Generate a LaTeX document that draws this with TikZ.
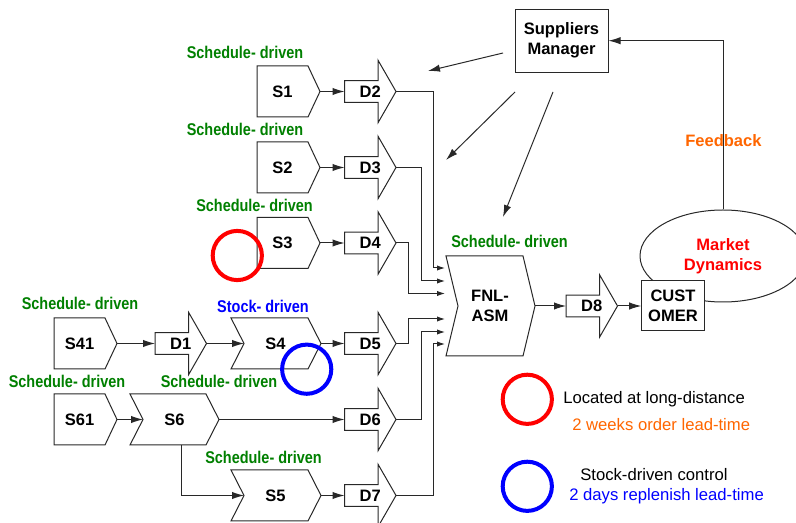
\documentclass[tikz,border=0pt]{standalone}
\usepackage{fontspec}
\setmainfont{Liberation Sans}
\newfontfamily\condfont{Liberation Sans}[FakeStretch=0.85]
\usetikzlibrary{arrows.meta,shapes.geometric}
\definecolor{sgreen}{RGB}{0,128,0}
\definecolor{sorange}{RGB}{255,102,0}
\definecolor{sblue}{RGB}{0,0,255}
\definecolor{sred}{RGB}{255,0,0}
\definecolor{lin}{RGB}{40,40,40}
% pentagon box: name, left x, top y
\newcommand\pentbox[3]{%
  \draw[shp] (#2,#3) -- ++(51,0) -- ++(12,25.5) -- ++(-12,25.5) -- ++(-51,0) -- cycle;
  \node[lbl] (#1) at (#2+25.5,#3+25.5) {#1};
  \coordinate (#1-out) at (#2+63,#3+25.5);}
% chevron box: name, left x, top y, flat width, height, indent
\newcommand\chevbox[6]{%
  \draw[shp] (#2,#3) -- ++(#4,0) -- ++(#6,#5/2) -- ++(-#6,#5/2) -- ++(-#4,0) -- ++(#6,-#5/2) -- cycle;
  \coordinate (#1-in) at (#2+#6,#3+#5/2);
  \coordinate (#1-out) at (#2+#4+#6,#3+#5/2);}
% block arrow: name, left x, centre y
\newcommand\darrbox[3]{%
  \draw[shp] (#2,#3-10.8) -- ++(33.5,0) -- ++(0,-20.5) -- ++(18,31.3) -- ++(-18,31.3) -- ++(0,-20.5) -- ++(-33.5,0) -- cycle;
  \node[lbl] (#1) at (#2+25.75,#3) {#1};
  \coordinate (#1-in) at (#2,#3);
  \coordinate (#1-out) at (#2+51.5,#3);}
\begin{document}
\begin{tikzpicture}[x=0.75pt,y=-0.75pt,
  shp/.style={draw=lin, line width=0.75pt, fill=white, line join=miter},
  lbl/.style={font=\fontsize{12.4}{15}\selectfont\bfseries, inner sep=0pt, text height=8.9pt, text depth=0pt},
  lbl2/.style={font=\fontsize{12.4}{15}\selectfont\bfseries, inner sep=0pt, align=center},
  sched/.style={font=\condfont\fontsize{12.75}{15}\selectfont\bfseries, text=sgreen, anchor=base, inner sep=0pt},
  leg/.style={font=\fontsize{12.5}{15}\selectfont, anchor=base west, inner sep=0pt},
  conn/.style={draw=lin, line width=0.75pt, -{Latex[length=9pt,width=5.5pt]}},
  feed/.style={draw=lin, line width=0.75pt, -{Latex[length=6pt,width=4pt]}},
  ring/.style={circle, line width=3pt, minimum size=36.9pt, inner sep=0pt},
]
\useasboundingbox (0,0) rectangle (796,523);
\clip (0,0) rectangle (796,523);
\fill[white] (0,0) rectangle (796,523);

% ---- sources ----
\pentbox{S1}{257}{66}
\pentbox{S2}{257}{142}
\pentbox{S3}{257}{217.5}
\pentbox{S41}{54}{318}
\pentbox{S61}{54}{394}

\chevbox{S4}{231}{318}{77}{51}{13}
\node[lbl] (S4) at (275.5,343.5) {S4};
\chevbox{S6}{130}{394}{76}{51}{13}
\node[lbl] (S6) at (174.5,419.5) {S6};
\chevbox{S5}{231}{470}{77}{51}{13}
\node[lbl] (S5) at (275.5,495.5) {S5};
\chevbox{FNL}{446}{256}{77}{100}{12}
\node[lbl2] (FNL) at (490,305.5) {FNL-\\ASM};

% ---- block arrows ----
\darrbox{D2}{344.5}{91.5}
\darrbox{D3}{344.5}{167.5}
\darrbox{D4}{344.5}{243}
\darrbox{D5}{344.5}{343.5}
\darrbox{D6}{344.5}{419.5}
\darrbox{D7}{344.5}{495.5}
\darrbox{D1}{155}{343.5}
\darrbox{D8}{566}{306}

% ---- green / blue labels ----
\node[sched] (g1) at (245,59) {Schedule- driven};
\node[sched] (g2) at (245,136) {Schedule- driven};
\node[sched] (g3) at (254.5,212) {Schedule- driven};
\node[sched] (g4) at (80,310) {Schedule- driven};
\node[sched, text=sblue] (b1) at (263,312.7) {Stock- driven};
\node[sched] (g5) at (219,387.7) {Schedule- driven};
\node[sched] (g6) at (67,387.7) {Schedule- driven};
\node[sched] (g7) at (263.5,464) {Schedule- driven};
\node[sched] (g8) at (509.5,247.7) {Schedule- driven};

% ---- connectors between sources ----
\draw[conn] (S1-out) -- (D2-in);
\draw[conn] (S2-out) -- (D3-in);
\draw[conn] (S3-out) -- (D4-in);
\draw[conn] (S41-out) -- (D1-in);
\draw[conn] (D1-out) -- (S4-in);
\draw[conn] (S4-out) -- (D5-in);
\draw[conn] (S61-out) -- (S6-in);
\draw[conn] (S6-out) -- (D6-in);
\coordinate (S6-bot) at (181,445);
\draw[conn] (S6-bot) |- (S5-in);
\draw[conn] (S5-out) -- (D7-in);

% ---- inputs of FNL-ASM ----
\coordinate (F1) at (445,268);
\coordinate (F2) at (445,281);
\coordinate (F3) at (445,293.5);
\coordinate (F4) at (445,319);
\coordinate (F5) at (445,332);
\coordinate (F6) at (445,344);
\draw[feed] (D2-out) -- ++(37,0) |- (F1);
\draw[feed] (D3-out) -- ++(25,0) |- (F2);
\draw[feed] (D4-out) -- ++(12,0) |- (F3);
\draw[feed] (D5-out) -- ++(12,0) |- (F4);
\draw[feed] (D6-out) -- ++(25,0) |- (F5);
\draw[feed] (D7-out) -- ++(37,0) |- (F6);

% ---- market side ----
\node[ellipse, draw=lin, line width=0.75pt, minimum width=124.5pt, minimum height=69pt,
      inner sep=0pt, lbl2, text=sred] (MD) at (723,256) {Market\\Dynamics};
\node[shp, lbl2, minimum width=46.9pt, minimum height=37.5pt] (CU) at (673,306) {CUST\\OMER};
\draw[conn] (FNL-out) -- (D8-in);
\draw[conn] (D8-out) -- (CU.west);

\node[shp, lbl2, minimum width=69.75pt, minimum height=47.25pt] (SM) at (561.5,40.7) {Suppliers\\Manager};
\node[lbl, text=sorange] (FB) at (723.4,141) {Feedback};
\draw[conn] (MD.north) |- (SM.east);

\coordinate (a1s) at (503,53);  \coordinate (a1e) at (428,71);
\coordinate (a2s) at (515,92);  \coordinate (a2e) at (446,160);
\coordinate (a3s) at (553,92);  \coordinate (a3e) at (503,217);
\draw[conn] (a1s) -- (a1e);
\draw[conn] (a2s) -- (a2e);
\draw[conn] (a3s) -- (a3e);

% ---- rings ----
\node[ring, draw=sred] (R1) at (237.3,255.5) {};
\node[ring, draw=sblue] (R2) at (306.7,369.2) {};

% ---- legend ----
\node[ring, draw=sred] (R3) at (527.3,399.3) {};
\node[ring, draw=sblue] (R4) at (527.3,486.3) {};
\node[leg] (L1) at (563,403.5) {Located at long-distance};
\node[leg, text=sorange] (L2) at (572,431) {2 weeks order lead-time};
\node[leg] (L3) at (580,480.3) {Stock-driven control};
\node[leg, text=sblue] (L4) at (569,500.5) {2 days replenish lead-time};
\end{tikzpicture}
\end{document}
